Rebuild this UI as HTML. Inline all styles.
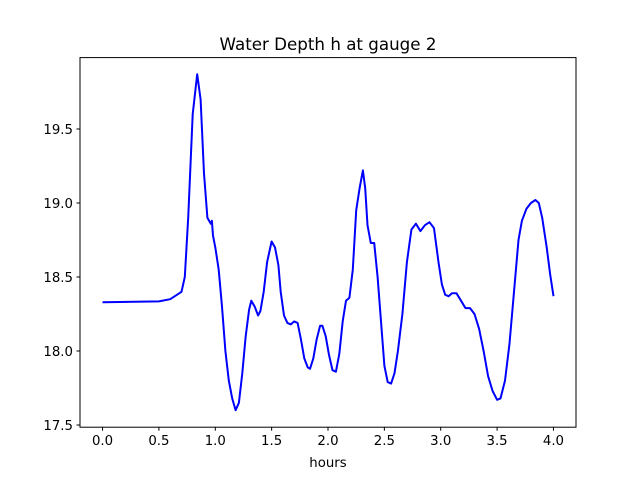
<!DOCTYPE html>
<html><head><meta charset="utf-8"><style>
body{margin:0;background:#fff}
svg{display:block;font-family:"DejaVu Sans","Liberation Sans",sans-serif}
</style></head><body>
<svg id="chart" width="640" height="480">
<rect width="640" height="480" fill="#fff"/>
<text x="328" y="50" font-size="16.7" text-anchor="middle">Water Depth h at gauge 2</text>
<text x="328" y="467" font-size="13.3" text-anchor="middle">hours</text>
<g id="ticks"></g>
<path id="line" fill="none" stroke="#0000ff" stroke-width="2" stroke-linejoin="round"/>
<rect x="80" y="57.6" width="496" height="369.6" fill="none" stroke="#000" stroke-width="1"/>
</svg>
<script>
const hours=[0,0.5,0.6,0.7,0.73,0.76,0.8,0.84,0.87,0.9,0.93,0.96,0.97,0.98,1.0,1.03,1.06,1.09,1.12,1.15,1.18,1.21,1.24,1.27,1.3,1.32,1.35,1.38,1.4,1.43,1.46,1.5,1.53,1.56,1.58,1.61,1.64,1.67,1.7,1.73,1.76,1.79,1.82,1.84,1.87,1.9,1.93,1.95,1.98,2.01,2.04,2.07,2.1,2.13,2.16,2.19,2.22,2.25,2.28,2.31,2.33,2.35,2.38,2.41,2.44,2.47,2.5,2.53,2.56,2.59,2.62,2.66,2.7,2.74,2.78,2.82,2.86,2.9,2.94,2.98,3.01,3.04,3.07,3.1,3.14,3.18,3.22,3.26,3.3,3.34,3.38,3.42,3.46,3.5,3.53,3.57,3.61,3.65,3.69,3.72,3.76,3.8,3.84,3.87,3.9,3.94,3.97,4.0];
const depth=[18.33,18.335,18.35,18.40,18.5,18.9,19.6,19.87,19.7,19.2,18.9,18.86,18.88,18.78,18.7,18.55,18.3,18.0,17.8,17.68,17.6,17.65,17.85,18.1,18.28,18.34,18.3,18.24,18.27,18.4,18.6,18.74,18.7,18.58,18.4,18.24,18.19,18.18,18.2,18.19,18.08,17.95,17.89,17.88,17.95,18.08,18.17,18.17,18.1,17.97,17.87,17.86,17.98,18.2,18.34,18.36,18.55,18.95,19.1,19.22,19.1,18.85,18.73,18.73,18.5,18.2,17.9,17.79,17.78,17.85,18.0,18.25,18.6,18.82,18.86,18.81,18.85,18.87,18.83,18.6,18.45,18.38,18.37,18.39,18.39,18.34,18.29,18.29,18.25,18.15,18.0,17.83,17.73,17.67,17.68,17.8,18.05,18.4,18.75,18.88,18.96,19.0,19.02,19.0,18.9,18.7,18.52,18.37];
const xTicks=[0,0.5,1,1.5,2,2.5,3,3.5,4];
const xTickLabels=["0.0","0.5","1.0","1.5","2.0","2.5","3.0","3.5","4.0"];
const yTicks=[17.5,18,18.5,19,19.5];
const yTickLabels=["17.5","18.0","18.5","19.0","19.5"];
const X=v=>80+(v+0.2)/4.4*496;
const Y=v=>425-(v-17.5)*148;
const NS="http://www.w3.org/2000/svg";
const g=document.getElementById('ticks');
function mk(tag,attrs,txt){const e=document.createElementNS(NS,tag);for(const k in attrs)e.setAttribute(k,attrs[k]);if(txt!==undefined)e.textContent=txt;g.appendChild(e);return e;}
xTicks.forEach((t,i)=>{
 const l=mk('line',{x1:X(t),x2:X(t),y1:427.2,y2:430.7,stroke:'#000'});
 
 
 const s=mk('text',{x:X(t),y:445,'font-size':13.3,'text-anchor':'middle'},xTickLabels[i]);
 
 
});
yTicks.forEach((t,i)=>{
 const l=mk('line',{x1:76.5,x2:80,y1:Y(t),y2:Y(t),stroke:'#000'});
 
 
 const s=mk('text',{x:73,y:Y(t)+5,'font-size':13.3,'text-anchor':'end'},yTickLabels[i]);
 
 
});
document.getElementById('line').setAttribute('d',hours.map((h,i)=>(i?'L':'M')+X(h).toFixed(1)+','+Y(depth[i]).toFixed(1)).join(''));
</script>
</body></html>
